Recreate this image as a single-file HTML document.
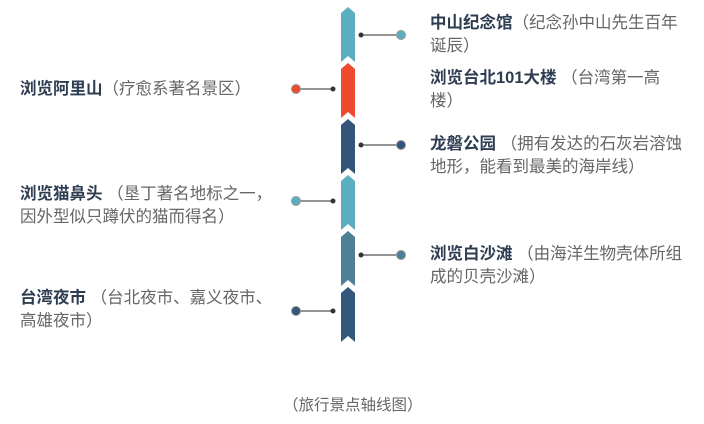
<!DOCTYPE html>
<html><head><meta charset="utf-8"><style>
body{margin:0;width:704px;height:424px;background:#fff;position:relative;overflow:hidden;font-family:"Liberation Sans","Noto Sans CJK SC",sans-serif;}
.t{position:absolute;font-size:16.5px;line-height:23px;color:#666;white-space:nowrap;}
.t b{color:#2e3d52;font-weight:bold;}
</style></head><body>
<svg width="704" height="424" style="position:absolute;left:0;top:0">
<g>
<polygon points="341,13 348,7 355,13 355,62 348,56 341,62" fill="#5aaebf"/>
<polygon points="341,69 348,63 355,69 355,118 348,112 341,118" fill="#ee4a2d"/>
<polygon points="341,125 348,119 355,125 355,174 348,168 341,174" fill="#34557a"/>
<polygon points="341,181 348,175 355,181 355,230 348,224 341,230" fill="#5aaebf"/>
<polygon points="341,237 348,231 355,237 355,286 348,280 341,286" fill="#4f7e97"/>
<polygon points="341,293 348,287 355,293 355,342 348,336 341,342" fill="#34577c"/>
</g>
<g stroke="#555" stroke-width="1.2">
<line x1="361" y1="35" x2="398" y2="35"/>
<line x1="299" y1="89" x2="333" y2="89"/>
<line x1="361" y1="145" x2="398" y2="145"/>
<line x1="299" y1="201" x2="333" y2="201"/>
<line x1="361" y1="255" x2="398" y2="255"/>
<line x1="299" y1="311" x2="333" y2="311"/>
</g>
<g fill="#333">
<circle cx="361" cy="35" r="2.5"/><circle cx="333" cy="89" r="2.5"/>
<circle cx="361" cy="145" r="2.5"/><circle cx="333" cy="201" r="2.5"/>
<circle cx="361" cy="255" r="2.5"/><circle cx="333" cy="311" r="2.5"/>
</g>
<g stroke="#999" stroke-width="1">
<circle cx="401" cy="35" r="4.5" fill="#5aaebf"/>
<circle cx="296" cy="89" r="4.5" fill="#ee4a2d"/>
<circle cx="401" cy="145" r="4.5" fill="#34557a"/>
<circle cx="296" cy="201" r="4.5" fill="#5aaebf"/>
<circle cx="401" cy="255" r="4.5" fill="#4f7e97"/>
<circle cx="296" cy="311" r="4.5" fill="#34577c"/>
</g>
</svg>
<div class="t" style="left:430px;top:12px"><b>中山纪念馆</b>（纪念孙中山先生百年<br>诞辰）</div>
<div class="t" style="left:430px;top:67px"><b>浏览台北101大楼</b> （台湾第一高<br>楼）</div>
<div class="t" style="left:430px;top:133px"><b>龙磐公园</b> （拥有发达的石灰岩溶蚀<br>地形，能看到最美的海岸线）</div>
<div class="t" style="left:430px;top:243px"><b>浏览白沙滩</b> （由海洋生物壳体所组<br>成的贝壳沙滩）</div>
<div class="t" style="left:20px;top:78px"><b>浏览阿里山</b>（疗愈系著名景区）</div>
<div class="t" style="left:20px;top:183px"><b>浏览猫鼻头</b> （垦丁著名地标之一，<br>因外型似只蹲伏的猫而得名）</div>
<div class="t" style="left:20px;top:287px"><b>台湾夜市</b> （台北夜市、嘉义夜市、<br>高雄夜市）</div>
<div class="t" style="left:283px;top:394px;font-size:15.5px">（旅行景点轴线图）</div>
</body></html>
